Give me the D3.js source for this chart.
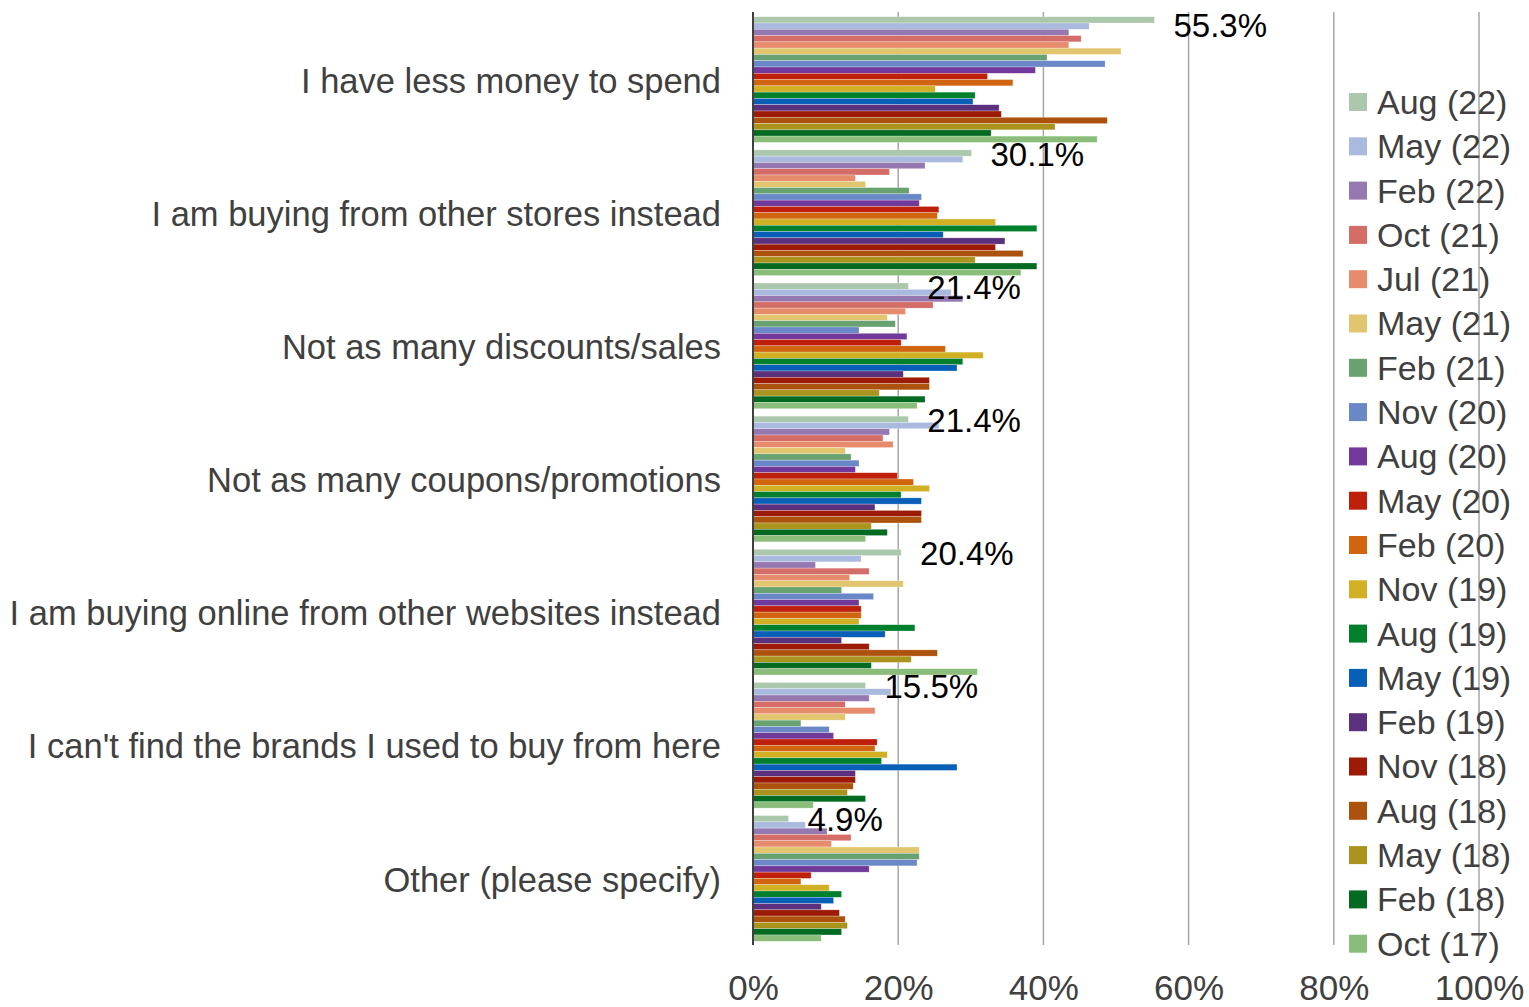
<!DOCTYPE html>
<html>
<head>
<meta charset="utf-8">
<script src="https://cdn.jsdelivr.net/npm/d3@7"></script>
<style>
  html, body { margin: 0; padding: 0; background: #fff; }
  svg { display: block; font-family: "Liberation Sans", Arial, sans-serif; }
</style>
</head>
<body>
<svg id="chart" width="1529" height="1007"></svg>
<script>
// Reasons given for shopping less, by survey wave (percent of respondents)
const categories = [
  "I have less money to spend",
  "I am buying from other stores instead",
  "Not as many discounts/sales",
  "Not as many coupons/promotions",
  "I am buying online from other websites instead",
  "I can't find the brands I used to buy from here",
  "Other (please specify)"
];

const waves = [
  "Aug (22)", "May (22)", "Feb (22)", "Oct (21)", "Jul (21)", "May (21)", "Feb (21)",
  "Nov (20)", "Aug (20)", "May (20)", "Feb (20)", "Nov (19)", "Aug (19)", "May (19)",
  "Feb (19)", "Nov (18)", "Aug (18)", "May (18)", "Feb (18)", "Oct (17)"
];

const waveColors = [
  "#abc8ad", "#aabadf", "#9678b0", "#d46c68", "#e68c6c", "#e2c66f", "#68a270",
  "#6a88c8", "#70399a", "#bf200c", "#d1640f", "#d1b024", "#007f2d", "#085fb7",
  "#5b307d", "#9c1a06", "#ad520c", "#ab941e", "#026a21", "#89bd79"
];

// One array per wave, values in category order
const aug22 = [55.3, 30.1, 21.4, 21.4, 20.4, 15.5, 4.9];
const may22 = [46.3, 28.9, 27.3, 25.6, 14.9, 19.0, 7.2];
const feb22 = [43.5, 23.7, 28.9, 18.8, 8.6, 16.0, 10.2];
const oct21 = [45.2, 18.8, 24.8, 17.9, 16.0, 12.7, 13.5];
const jul21 = [43.5, 14.1, 21.0, 19.3, 13.3, 16.8, 10.8];
const may21 = [50.7, 15.5, 18.5, 12.7, 20.7, 12.7, 22.9];
const feb21 = [40.5, 21.5, 19.6, 13.5, 12.2, 6.6, 22.9];
const nov20 = [48.5, 23.2, 14.6, 14.6, 16.6, 10.5, 22.6];
const aug20 = [38.9, 22.9, 21.2, 14.1, 14.6, 11.1, 16.0];
const may20 = [32.3, 25.6, 20.4, 19.9, 14.9, 17.1, 8.0];
const feb20 = [35.8, 25.4, 26.5, 22.1, 14.9, 16.8, 6.6];
const nov19 = [25.1, 33.4, 31.7, 24.3, 14.6, 18.5, 10.5];
const aug19 = [30.6, 39.1, 28.9, 20.4, 22.3, 17.7, 12.2];
const may19 = [30.3, 26.2, 28.1, 23.2, 18.2, 28.1, 11.1];
const feb19 = [33.9, 34.7, 20.7, 16.8, 12.2, 14.1, 9.4];
const nov18 = [34.2, 33.4, 24.3, 23.2, 16.0, 14.1, 11.9];
const aug18 = [48.8, 37.2, 24.3, 23.2, 25.4, 13.8, 12.7];
const may18 = [41.6, 30.6, 17.4, 16.3, 21.8, 13.0, 13.0];
const feb18 = [32.8, 39.1, 23.7, 18.5, 16.3, 15.5, 12.2];
const oct17 = [47.4, 36.9, 22.6, 15.5, 30.9, 8.3, 9.4];

const waveValues = [
  aug22, may22, feb22, oct21, jul21, may21, feb21, nov20, aug20, may20,
  feb20, nov19, aug19, may19, feb19, nov18, aug18, may18, feb18, oct17
];

// Only the latest wave carries value labels
const labelledWave = "Aug (22)";

const xTicks = [0, 20, 40, 60, 80, 100];

const svg = d3.select("#chart");
const textColor = "#404040";

const plot = { left: 753, right: 1479, top: 13, bottom: 945 };

const x = d3.scaleLinear().domain([0, 100]).range([plot.left, plot.right]);

const y0 = d3.scaleBand()
  .domain(categories)
  .range([plot.top, plot.bottom])
  .paddingInner(0.056)
  .paddingOuter(0.028);

const y1 = d3.scaleBand()
  .domain(waves)
  .range([0, y0.bandwidth()])
  .padding(0);

const color = d3.scaleOrdinal().domain(waves).range(waveColors);

// Vertical gridlines
svg.append("g")
  .selectAll("line")
  .data(xTicks.filter(t => t > 0))
  .join("line")
  .attr("x1", d => x(d)).attr("x2", d => x(d))
  .attr("y1", plot.top - 1).attr("y2", plot.bottom)
  .attr("stroke", "#a6a6a6")
  .attr("stroke-width", 1.5);

// Bars
const rows = categories.map((c, ci) => ({
  category: c,
  bars: waves.map((w, wi) => ({ wave: w, value: waveValues[wi][ci] }))
}));

const groups = svg.append("g")
  .selectAll("g")
  .data(rows)
  .join("g")
  .attr("transform", d => `translate(0,${y0(d.category)})`);

groups.selectAll("rect")
  .data(d => d.bars)
  .join("rect")
  .attr("x", x(0))
  .attr("y", d => y1(d.wave))
  .attr("width", d => x(d.value) - x(0))
  .attr("height", y1.bandwidth())
  .attr("fill", d => color(d.wave))
  .attr("stroke", "#ffffff")
  .attr("stroke-opacity", 0.45)
  .attr("stroke-width", 0.6);

// Category axis line
svg.append("line")
  .attr("x1", x(0)).attr("x2", x(0))
  .attr("y1", plot.top - 1).attr("y2", plot.bottom)
  .attr("stroke", "#404040")
  .attr("stroke-width", 2);

// Category labels
svg.append("g")
  .selectAll("text")
  .data(categories)
  .join("text")
  .attr("x", 721)
  .attr("y", d => y0(d) + y0.bandwidth() / 2 + 1)
  .attr("dy", "0.35em")
  .attr("text-anchor", "end")
  .attr("font-size", 34.5)
  .attr("fill", textColor)
  .text(d => d);

// Value axis tick labels
const xAxis = d3.axisBottom(x)
  .tickValues(xTicks)
  .tickFormat(d => d + "%")
  .tickSize(0)
  .tickPadding(0);

const axisG = svg.append("g")
  .attr("transform", `translate(0,${plot.bottom})`)
  .call(xAxis);
axisG.select(".domain").remove();
axisG.selectAll("text")
  .attr("y", 0)
  .attr("dy", 0)
  .attr("transform", "translate(0,55)")
  .attr("font-family", "'Liberation Sans', Arial, sans-serif")
  .attr("font-size", 35)
  .attr("fill", textColor);

// Value labels for the latest wave, kept inside the plot's top edge
const fmt = d3.format(".1f");
const labelIdx = waves.indexOf(labelledWave);
svg.append("g")
  .selectAll("text")
  .data(rows)
  .join("text")
  .attr("x", d => x(d.bars[labelIdx].value) + 19)
  .attr("y", d => Math.max(plot.top + 12,
    y0(d.category) + y1(labelledWave) + y1.bandwidth() / 2 + 1))
  .attr("dy", "0.35em")
  .attr("font-size", 33)
  .attr("fill", "#000")
  .text(d => fmt(d.bars[labelIdx].value) + "%");

// Legend
const legend = svg.append("g")
  .attr("transform", "translate(1349,102)")
  .selectAll("g")
  .data(waves)
  .join("g")
  .attr("transform", (d, i) => `translate(0,${i * 44.3})`);

legend.append("rect")
  .attr("x", 0).attr("y", -9)
  .attr("width", 18).attr("height", 18)
  .attr("fill", d => color(d));

legend.append("text")
  .attr("x", 28)
  .attr("y", 0)
  .attr("dy", "0.35em")
  .attr("font-size", 34)
  .attr("fill", textColor)
  .text(d => d);
</script>
</body>
</html>
